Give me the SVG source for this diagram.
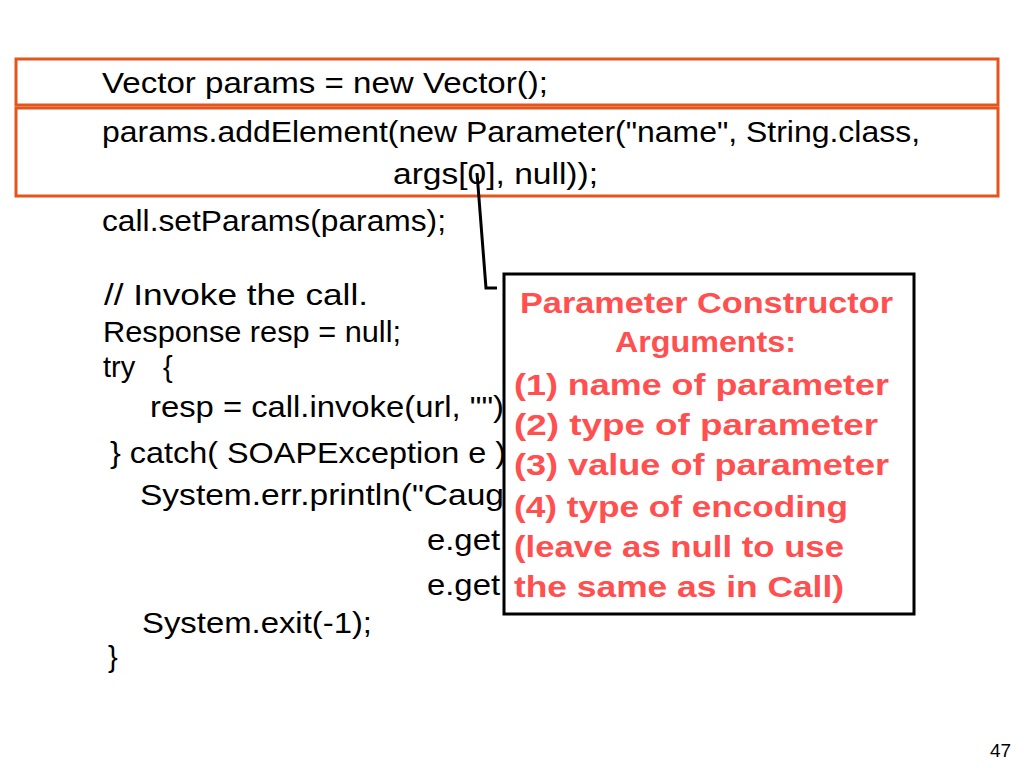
<svg xmlns="http://www.w3.org/2000/svg" width="1024" height="768" viewBox="0 0 1024 768">
<style>
.code{font-family:"Liberation Sans","DejaVu Sans",sans-serif;font-size:29px;fill:#000}
.note{font-family:"Liberation Sans","DejaVu Sans",sans-serif;font-size:29px;font-weight:bold;fill:#FF4F4F}
.hl{fill:none;stroke:#E4541C;stroke-width:3}
.conn{fill:none;stroke:#000;stroke-width:3}
</style>
<rect width="1024" height="768" fill="#fff"/>
<g id="code">
<text class="code" x="102" y="93" textLength="446" lengthAdjust="spacingAndGlyphs">Vector params = new Vector();</text>
<text class="code" x="102" y="142" textLength="818" lengthAdjust="spacingAndGlyphs">params.addElement(new Parameter("name", String.class,</text>
<text class="code" x="393" y="184" textLength="205" lengthAdjust="spacingAndGlyphs">args[0], null));</text>
<text class="code" x="102" y="231" textLength="344" lengthAdjust="spacingAndGlyphs">call.setParams(params);</text>
<text class="code" x="104" y="305" textLength="264" lengthAdjust="spacingAndGlyphs">// Invoke the call.</text>
<text class="code" x="103" y="342" textLength="298" lengthAdjust="spacingAndGlyphs">Response resp = null;</text>
<text class="code" x="103" y="377">try<tspan x="163">{</tspan></text>
<text class="code" x="150" y="417" textLength="354" lengthAdjust="spacingAndGlyphs">resp = call.invoke(url, "")</text>
<text class="code" x="110" y="463" textLength="396" lengthAdjust="spacingAndGlyphs">} catch( SOAPException e )</text>
<text class="code" x="140" y="505" textLength="364" lengthAdjust="spacingAndGlyphs">System.err.println("Caug</text>
<text class="code" x="427" y="550" textLength="73" lengthAdjust="spacingAndGlyphs">e.get</text>
<text class="code" x="427" y="595" textLength="73" lengthAdjust="spacingAndGlyphs">e.get</text>
<text class="code" x="142" y="633" textLength="230" lengthAdjust="spacingAndGlyphs">System.exit(-1);</text>
<text class="code" x="108" y="667">}</text>
</g>
<g id="highlight1"><rect class="hl" x="16" y="59" width="982" height="46"/></g>
<g id="highlight2"><rect class="hl" x="16" y="108" width="982" height="88"/></g>
<g id="connectors">
<polyline class="conn" points="477,173 486,288 497,288"/>
</g>
<g id="note">
<rect x="504" y="274" width="410" height="340" fill="#fff" stroke="#000" stroke-width="3"/>
<text class="note" x="520" y="313" textLength="373" lengthAdjust="spacingAndGlyphs">Parameter Constructor</text>
<text class="note" x="615" y="352" textLength="181" lengthAdjust="spacingAndGlyphs">Arguments:</text>
<text class="note" x="514" y="395" textLength="375" lengthAdjust="spacingAndGlyphs">(1) name of parameter</text>
<text class="note" x="514" y="435" textLength="364" lengthAdjust="spacingAndGlyphs">(2) type of parameter</text>
<text class="note" x="514" y="475" textLength="375" lengthAdjust="spacingAndGlyphs">(3) value of parameter</text>
<text class="note" x="514" y="517" textLength="334" lengthAdjust="spacingAndGlyphs">(4) type of encoding</text>
<text class="note" x="514" y="557" textLength="330" lengthAdjust="spacingAndGlyphs">(leave as null to use</text>
<text class="note" x="514" y="597" textLength="330" lengthAdjust="spacingAndGlyphs">the same as in Call)</text>
</g>
<text x="990" y="757" font-family="Liberation Sans, sans-serif" font-size="19" fill="#000">47</text>
</svg>
